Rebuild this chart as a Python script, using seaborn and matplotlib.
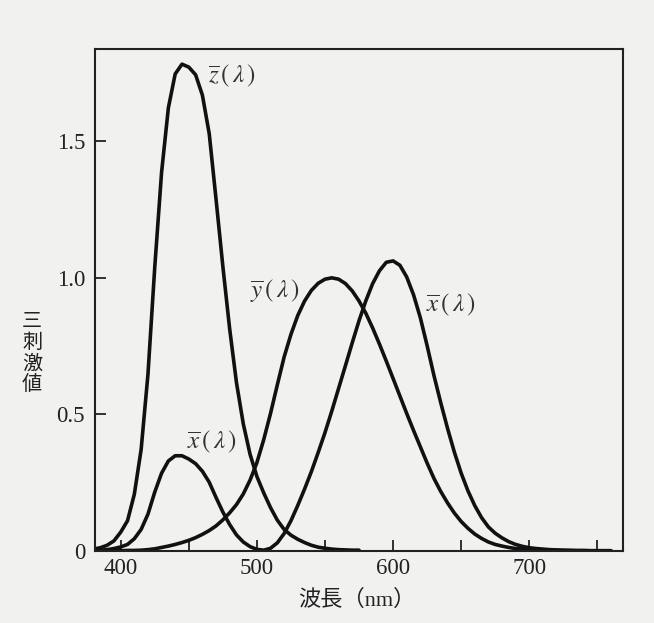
import numpy as np
import pandas as pd
import matplotlib
matplotlib.use('Agg')
import matplotlib.pyplot as plt
import seaborn as sns

# CIE 1931 colour matching functions (5 nm steps)
wavelength = [380, 385, 390, 395, 400, 405, 410, 415, 420, 425, 430, 435, 440, 445,
              450, 455, 460, 465, 470, 475, 480, 485, 490, 495, 500, 505, 510, 515,
              520, 525, 530, 535, 540, 545, 550, 555, 560, 565, 570, 575, 580, 585,
              590, 595, 600, 605, 610, 615, 620, 625, 630, 635, 640, 645, 650, 655,
              660, 665, 670, 675, 680, 685, 690, 695, 700, 705, 710, 715, 720, 725,
              730, 735, 740, 745, 750, 755, 760]
x_bar = [0.001, 0.002, 0.004, 0.008, 0.014, 0.023, 0.044, 0.078, 0.134, 0.215, 0.284, 0.329,
         0.348, 0.348, 0.336, 0.319, 0.291, 0.251, 0.195, 0.142, 0.096, 0.058, 0.032, 0.015,
         0.005, 0.002, 0.009, 0.029, 0.063, 0.110, 0.166, 0.226, 0.290, 0.360, 0.433, 0.512,
         0.595, 0.678, 0.762, 0.843, 0.916, 0.979, 1.026, 1.057, 1.062, 1.046, 1.003, 0.938,
         0.854, 0.751, 0.642, 0.542, 0.448, 0.361, 0.284, 0.219, 0.165, 0.121, 0.087, 0.064,
         0.047, 0.033, 0.023, 0.016, 0.011, 0.008, 0.006, 0.004, 0.003, 0.002, 0.001, 0.001,
         0.001, 0.000, 0.000, 0.000, 0.000]
y_bar = [0.000, 0.000, 0.000, 0.000, 0.000, 0.001, 0.001, 0.002, 0.004, 0.007, 0.012, 0.017,
         0.023, 0.030, 0.038, 0.048, 0.060, 0.074, 0.091, 0.113, 0.139, 0.169, 0.208, 0.259,
         0.323, 0.407, 0.503, 0.608, 0.710, 0.793, 0.862, 0.915, 0.954, 0.980, 0.995, 1.000,
         0.995, 0.979, 0.952, 0.915, 0.870, 0.816, 0.757, 0.695, 0.631, 0.567, 0.503, 0.441,
         0.381, 0.321, 0.265, 0.217, 0.175, 0.138, 0.107, 0.082, 0.061, 0.045, 0.032, 0.023,
         0.017, 0.012, 0.008, 0.006, 0.004, 0.003, 0.002, 0.001, 0.001, 0.001, 0.001, 0.000,
         0.000, 0.000, 0.000, 0.000, 0.000]
# z-bar is only drawn up to 575 nm in the figure
z_wavelength = wavelength[:40]
z_bar = [0.006, 0.011, 0.020, 0.036, 0.068, 0.110, 0.207, 0.371, 0.646, 1.039, 1.386, 1.623,
         1.747, 1.783, 1.772, 1.744, 1.669, 1.528, 1.288, 1.042, 0.813, 0.616, 0.465, 0.353,
         0.272, 0.212, 0.158, 0.112, 0.078, 0.057, 0.042, 0.030, 0.020, 0.013, 0.009, 0.006,
         0.004, 0.003, 0.002, 0.002]

x_ticks = [400, 450, 500, 550, 600, 650, 700, 750]
x_ticklabels = ['400', '', '500', '', '600', '', '700', '']
y_ticks = [0, 0.5, 1.0, 1.5]
y_ticklabels = ['0', '0.5', '1.0', '1.5']

df_x = pd.DataFrame({'wl': wavelength, 'v': x_bar})
df_y = pd.DataFrame({'wl': wavelength, 'v': y_bar})
df_z = pd.DataFrame({'wl': z_wavelength, 'v': z_bar})

sns.set_style('ticks')
plt.rcParams['font.family'] = ['Liberation Serif', 'Noto Sans CJK JP']
plt.rcParams['mathtext.fontset'] = 'stix'

bg = '#f1f1f0'
fig = plt.figure(figsize=(6.54, 6.23), dpi=100, facecolor=bg)
ax = fig.add_axes([0.145, 0.116, 0.808, 0.806])
ax.set_facecolor(bg)

for d in (df_z, df_x, df_y):
    sns.lineplot(data=d, x='wl', y='v', ax=ax, color='#111111', linewidth=2.6,
                 sort=False, solid_joinstyle='round', solid_capstyle='round')

ax.set_xlim(381, 769)
ax.set_ylim(0, 1.84)
ax.set_xticks(x_ticks)
ax.set_xticklabels(x_ticklabels)
ax.set_yticks(y_ticks)
ax.set_yticklabels(y_ticklabels)
ax.tick_params(direction='in', length=8, width=1.3, labelsize=16.5, colors='#222222')
ax.tick_params(axis='y', pad=7)
ax.tick_params(axis='x', pad=5)
for s in ax.spines.values():
    s.set_linewidth(1.5)
    s.set_color('#222222')

ax.set_xlabel('')
ax.set_ylabel('')
fig.text(0.545, 0.037, '波長（nm）', ha='center', va='center', fontsize=16, color='#222222')
fig.text(0.049, 0.433, '三\n刺\n激\n値', ha='center', va='center', fontsize=14.5,
         linespacing=1.0, color='#222222', family=['Noto Sans CJK JP'])

lbl = dict(fontsize=18, color='#333333', va='center', ha='left')
ax.text(464, 1.74, r'$\overline{z}\,(\,\lambda\,)$', **lbl)
ax.text(495, 0.95, r'$\overline{y}\,(\,\lambda\,)$', **lbl)
ax.text(624.5, 0.90, r'$\overline{x}\,(\,\lambda\,)$', **lbl)
ax.text(448.5, 0.40, r'$\overline{x}\,(\,\lambda\,)$', **lbl)

fig.savefig('out.png', dpi=100, facecolor=bg)
